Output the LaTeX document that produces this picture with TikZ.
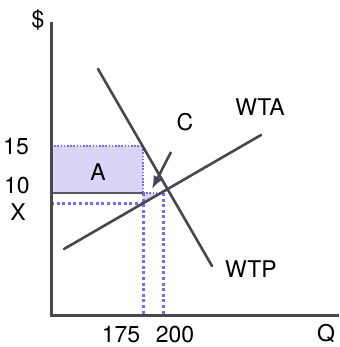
\documentclass[tikz,border=0pt]{standalone}
\usepackage{fontspec}
\setmainfont{TeX Gyre Heros}
\usetikzlibrary{positioning,arrows.meta}
\definecolor{axisgray}{HTML}{454850}
\definecolor{areafill}{HTML}{DAD5F6}
\definecolor{dotblue}{HTML}{7A6CE8}
\begin{document}
\begin{tikzpicture}[
  x=1pt, y=-1pt,
  lbl/.style={font=\fontsize{23}{26}\selectfont, inner sep=0pt},
  axisline/.style={draw=axisgray, line width=3pt},
  curveline/.style={draw=axisgray, line width=2.6pt},
  edgeline/.style={draw=axisgray!90, line width=1.2pt},
  thindot/.style={draw=dotblue, line width=1.3pt, dash pattern=on 1.6pt off 1.6pt},
  thickdot/.style={draw=dotblue, line width=3pt, dash pattern=on 3pt off 2.6pt},
  areabox/.style={fill=areafill}
]
\useasboundingbox (0,0) rectangle (339,347);

% axes
\coordinate (top) at (51,22);
\coordinate (orig) at (51,315);
\coordinate (qend) at (339,315);

% key points
\coordinate (p15) at (51,146);
\coordinate (p10) at (51,193);
\coordinate (px) at (51,203);
\coordinate (c15) at (143,146);
\coordinate (c10) at (143,193);
\coordinate (cx) at (143,203);
\coordinate (t10) at (161,193);
\coordinate (d200) at (163,193);
\coordinate (b175) at (143,315);
\coordinate (b200) at (163,315);

% shaded areas
\fill[areabox] (p15) rectangle (c10);
\fill[areabox] (c10) -- (t10) -- (cx) -- cycle;

% dotted guides
\draw[thindot] (p15) -- (c15);
\draw[thindot] (c15) -- (c10);
\draw[thindot] (c10) -- (d200);
\draw[thickdot] (px) -- (cx);
\draw[thickdot] (c10) -- (b175);
\draw[thickdot] (d200) -- (b200);
\draw[edgeline] (p10) -- (c10);

% curves
\coordinate (wtp1) at (98,69);
\coordinate (wtp2) at (212,266);
\coordinate (wta1) at (64,249);
\coordinate (wta2) at (261,135);
\draw[curveline, line cap=round] (wtp1) -- (wtp2);
\draw[curveline, line cap=round] (wta1) -- (wta2);

% arrow to C
\coordinate (cs) at (171,152);
\coordinate (ce) at (152,189);
\draw[curveline, -{Latex[length=13pt,width=10pt]}] (cs) -- (ce);

\draw[axisline] (top) -- (orig) -- (qend);

% labels
\node[lbl] (ldollar) at (38,20) {\$};
\node[lbl] (l15) at (16,147) {15};
\node[lbl] (l10) at (17,186) {10};
\node[lbl] (lx) at (18,212) {X};
\node[lbl] (la) at (98,172) {A};
\node[lbl] (lc) at (185,122) {C};
\node[lbl] (lwta) at (260,107) {WTA};
\node[lbl] (lwtp) at (251,269) {WTP};
\node[lbl] (l175) at (121,335) {175};
\node[lbl] (l200) at (175,335) {200};
\node[lbl] (lq) at (326,334) {Q};

\end{tikzpicture}
\end{document}
